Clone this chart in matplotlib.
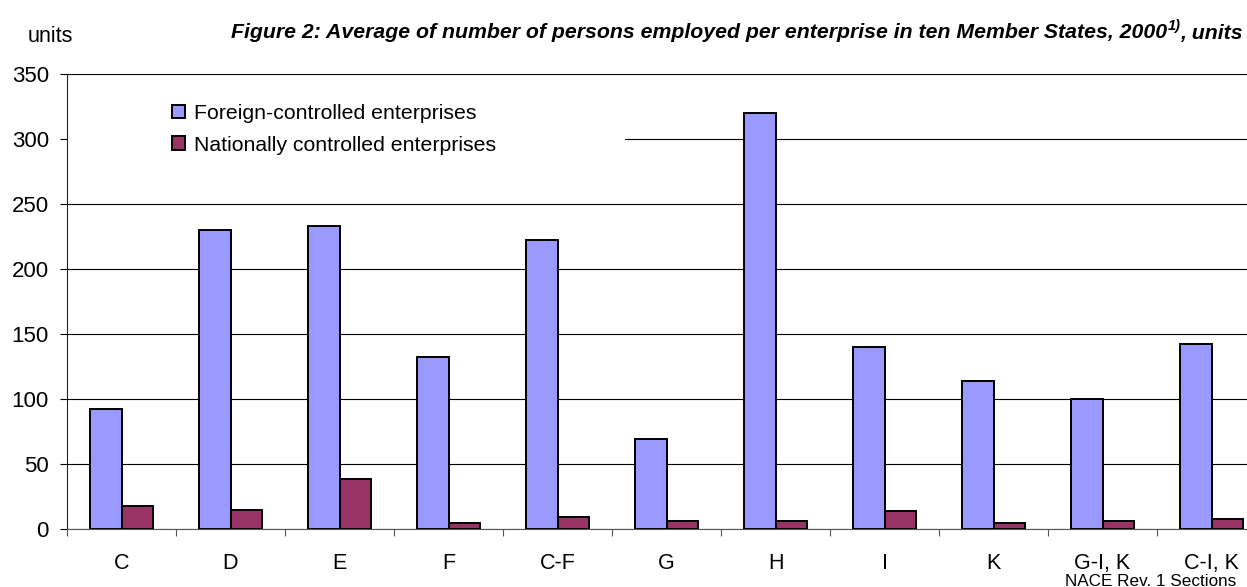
import numpy as np
import matplotlib
matplotlib.use("Agg")
import matplotlib.pyplot as plt
from matplotlib.patches import Rectangle

plt.rcParams['font.family'] = ['Liberation Sans', 'DejaVu Sans']

# data
sections = ['C', 'D', 'E', 'F', 'C-F', 'G', 'H', 'I', 'K', 'G-I, K', 'C-I, K']
foreign = [92, 230, 233, 132, 222, 69, 320, 140, 114, 100, 142]
national = [17.5, 14.5, 38.5, 4.5, 9.5, 6, 6, 14, 5, 6.5, 8]
series_names = ['Foreign-controlled enterprises', 'Nationally controlled enterprises']
y_ticks = [0, 50, 100, 150, 200, 250, 300, 350]

W, H = 1247, 587
fig = plt.figure(figsize=(W / 100, H / 100), dpi=100)
ax = fig.add_axes([67 / W, 1 - 529 / H, (1266 - 67) / W, (529 - 74) / H])

x = np.arange(len(sections))
bw = 0.29
ax.bar(x - bw / 2, foreign, bw, color='#9999FF', edgecolor='black', linewidth=1.4,
       label=series_names[0], zorder=3)
ax.bar(x + bw / 2, national, bw, color='#993366', edgecolor='black', linewidth=1.4,
       label=series_names[1], zorder=3)

ax.set_xlim(-0.5, len(sections) - 0.5)
ax.set_ylim(0, 350)
ax.set_yticks(y_ticks)
ax.yaxis.grid(True, color='black', linewidth=0.8)
ax.set_axisbelow(True)
for s in ['top', 'right']:
    ax.spines[s].set_visible(False)
ax.spines['left'].set_color('#222222')
ax.spines['bottom'].set_color('#555555')

# ticks between categories, labels at the centres
ax.set_xticks(np.arange(len(sections) + 1) - 0.5)
ax.set_xticklabels([])
ax.set_xticks(x, minor=True)
ax.set_xticklabels(sections, minor=True, fontsize=15.5)
ax.tick_params(axis='x', which='minor', length=0, pad=17)
ax.tick_params(axis='x', which='major', length=5, color='#555555')
ax.tick_params(axis='y', length=5, pad=8, labelsize=16)

# white area behind the legend hides the gridline
ax.add_patch(Rectangle((-0.5, 276), 5.12, 62, facecolor='white', edgecolor='none', zorder=2.5))
ax.legend(loc='upper left', bbox_to_anchor=(172 / W, 1 - 104 / H), bbox_transform=fig.transFigure,
          frameon=False, fontsize=15.3, handlelength=0.62, handleheight=0.62,
          handletextpad=0.4, labelspacing=0.6, borderpad=0, borderaxespad=0)

fig.text(28 / W, 1 - 36 / H, 'units', fontsize=15.5, va='center', ha='left')
fig.text(1236 / W, 1 - 581 / H, 'NACE Rev. 1 Sections', fontsize=12.3, va='center', ha='right')

# title with a raised footnote mark, built right to left
renderer = fig.canvas.get_renderer()
ty = 1 - 33 / H
tkw = dict(fontsize=15.3, fontweight='bold', fontstyle='italic', va='center')
t3 = fig.text(1243 / W, ty, ', units', ha='right', **tkw)
x3 = t3.get_window_extent(renderer).x0
t2 = fig.text(x3 / W, ty + 7 / H, '1)', ha='right', fontsize=10.5, fontweight='bold', fontstyle='italic', va='center')
x2 = t2.get_window_extent(renderer).x0
fig.text(x2 / W, ty, 'Figure 2: Average of number of persons employed per enterprise in ten Member States, 2000',
         ha='right', **tkw)

fig.savefig('out.png', dpi=100)
